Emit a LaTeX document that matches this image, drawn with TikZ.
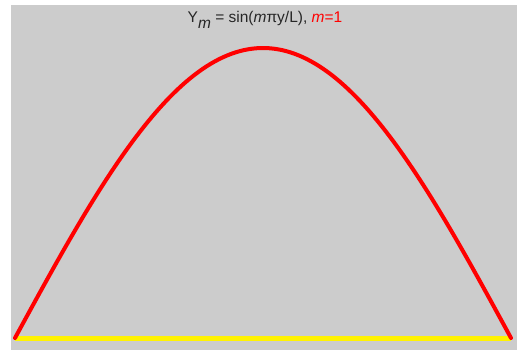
\documentclass[tikz,border=0pt]{standalone}
\usepackage{fontspec}
\setmainfont{Liberation Sans}
\begin{document}
\begin{tikzpicture}[x=1pt,y=-1pt,
  wave/.style={red,line width=4pt,line cap=round,line join=round},
  base/.style={yellow,line width=5pt},
  titletext/.style={font=\fontsize{15.5}{18}\selectfont,text=black!85,inner sep=0pt}]
\useasboundingbox (0,0) rectangle (517,350);
\fill[white] (0,0) rectangle (517,350);
\fill[black!20] (11,5) rectangle (517,350);
\coordinate (l) at (15,338);
\coordinate (r) at (511,338);
\draw[base] (l) -- (r);
\draw[wave] plot[domain=0:180,samples=120] ({15+2.7556*\x},{338-290*sin(\x)});
\node[titletext] (title) at (265,20) {Y\raisebox{-0.8ex}{\textit{m}} = sin(\textit{m}πy/L), \textcolor{red}{\textit{m}=1}};
\end{tikzpicture}
\end{document}
